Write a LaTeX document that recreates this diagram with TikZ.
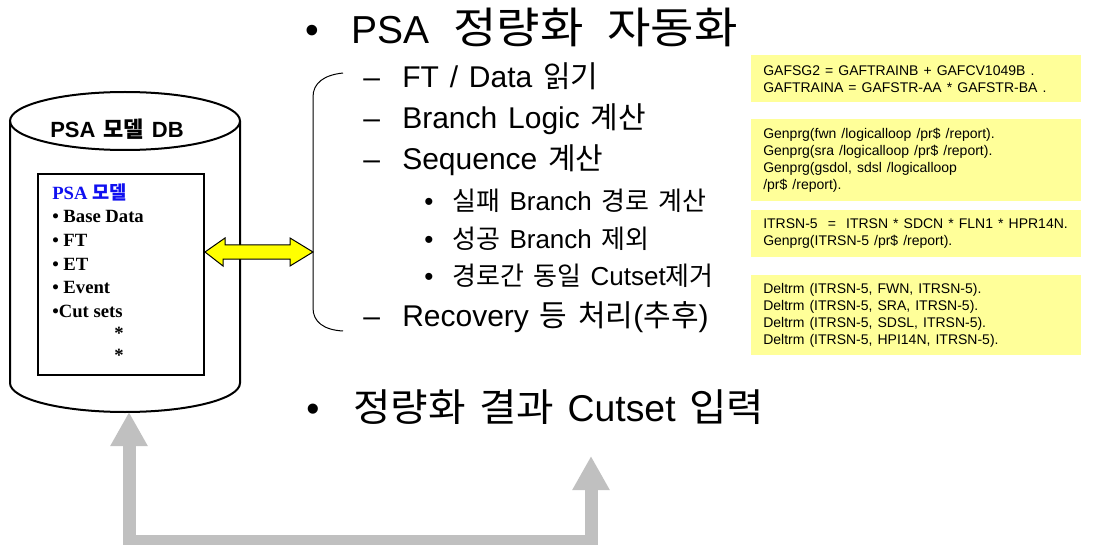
\documentclass[tikz,border=0pt]{standalone}
\usepackage{fontspec}
\setmainfont{Liberation Sans}[WordSpace=1.3]
\newfontfamily\krfont{Noto Sans CJK KR}
\newfontfamily\krL{Noto Sans CJK KR}[Scale=1.03, FakeStretch=1.06]
\newfontfamily\krT{Noto Sans CJK KR}[Scale=1.1, FakeStretch=1.1]
\newfontfamily\serifB{Liberation Serif}
\newcommand\kr[1]{{\krfont #1}}
\newcommand\kl[1]{{\krL #1}}
\newcommand\kt[1]{{\krT #1}}
\usetikzlibrary{arrows.meta}
\definecolor{boxyellow}{HTML}{FFFF99}
\definecolor{arrowgray}{HTML}{C0C0C0}
\definecolor{arrowyellow}{HTML}{FFFF00}
\definecolor{modelblue}{HTML}{1010F0}
\begin{document}
\begin{tikzpicture}[x=0.75pt,y=-0.75pt,
 txt/.style={anchor=base west, inner sep=0pt},
 big/.style={txt, font=\fontsize{29.25}{35}\selectfont},
 bottomfont/.style={txt, font=\fontsize{28}{34}\selectfont},
 mid/.style={txt, font=\fontsize{22.5}{27}\selectfont},
 small/.style={txt, font=\fontsize{19.5}{23}\selectfont},
 ybox/.style={fill=boxyellow, draw=none, anchor=north west, minimum width=247.5pt, inner sep=0pt},
 code/.style={anchor=west, inner sep=0pt, align=left, font=\fontsize{10.5}{12.75}\selectfont},
 innertxt/.style={txt, font=\serifB\bfseries\fontsize{14}{17}\selectfont},
 grayarrow/.style={draw=arrowgray, line width=9.75pt,
   {Triangle[length=25.5pt,width=26.25pt]}-{Triangle[length=25.5pt,width=26.25pt]}},
]
\useasboundingbox (0,0) rectangle (1109,545);

% cylinder
\draw[line width=1.5pt] (125,121) ellipse [x radius=115, y radius=29];
\draw[line width=1.5pt] (10,121) -- (10,383) arc[start angle=180, end angle=0, x radius=115, y radius=29] -- (240,121);
\node[txt, anchor=base, font=\bfseries\fontsize{16.5}{19}\selectfont] (dbtitle) at (117,138) {PSA \kr{\bfseries 모델} DB};

% inner model box
\node[draw, line width=1.5pt, minimum width=124.5pt, minimum height=150.75pt, anchor=north west, inner sep=0pt] (model) at (37,173) {};
\node[innertxt, text=modelblue] (m0) at (52,200) {PSA \kr{\bfseries 모델}};
\node[innertxt] (m1) at (52,223) {• Base Data};
\node[innertxt] (m2) at (52,247) {• FT};
\node[innertxt] (m3) at (52,270) {• ET};
\node[innertxt] (m4) at (52,293) {• Event};
\node[innertxt] (m5) at (52,317) {•Cut sets};
\node[innertxt] (m6) at (114,339) {*};
\node[innertxt] (m7) at (114,361) {*};

% yellow double arrow
\coordinate (brace) at (313,252);
\draw[fill=arrowyellow, line width=0.75pt, line join=miter]
  (model.east |- brace) -- ++(20,-14) -- ++(0,7) -- (290,245) -- (290,238) -- (brace)
  -- (290,266) -- (290,259) -- (223,259) -- (223,266) -- cycle;

% bracket
\draw[line width=0.75pt] (343,73) .. controls (324,75) and (313,83) .. (313,97) -- (313,308) .. controls (313,322) and (324,330) .. (343,331);

% main texts
\node[big] (tb) at (305,44) {•};
\node[big] (title) at (351,44) {PSA\hspace{18pt}\kt{정량화}\hspace{18pt}\kt{자동화}};
\node[mid] (d1) at (363,88) {–};
\node[mid] (i1) at (402,88) {FT / Data \kr{읽기}};
\node[mid] (d2) at (363,129) {–};
\node[mid] (i2) at (402,129) {Branch Logic \kr{계산}};
\node[mid] (d3) at (363,170) {–};
\node[mid] (i3) at (402,170) {Sequence \kr{계산}};
\node[small] (s1b) at (424,211) {•};
\node[small] (s1) at (452,211) {\kr{실패} Branch \kr{경로} \kr{계산}};
\node[small] (s2b) at (424,248) {•};
\node[small] (s2) at (452,248) {\kr{성공} Branch \kr{제외}};
\node[small] (s3b) at (424,285) {•};
\node[small] (s3) at (452,285) {\kr{경로간} \kr{동일} Cutset\kr{제거}};
\node[mid] (d4) at (363,326) {–};
\node[mid] (i4) at (402,326) {Recovery \kr{등} \kr{처리}(\kr{추후})};
\node[bottomfont] (bb) at (306,421) {•};
\node[bottomfont] (bottom) at (353,421) {\kl{정량화} \kl{결과} Cutset \kl{입력}};

% yellow code boxes
\node[ybox, minimum height=35.25pt] (b1) at (751,55) {};
\node[code] (c1) at ([xshift=9pt]b1.west) {GAFSG2 = GAFTRAINB + GAFCV1049B .\\GAFTRAINA = GAFSTR-AA * GAFSTR-BA .};
\node[ybox, minimum height=61.5pt] (b2) at (751,119) {};
\node[code] (c2) at ([xshift=9pt]b2.west) {Genprg(fwn /logicalloop /pr\$ /report).\\Genprg(sra /logicalloop /pr\$ /report).\\Genprg(gsdol, sdsl /logicalloop\\/pr\$ /report).};
\node[ybox, minimum height=35.25pt] (b3) at (751,210) {};
\node[code] (c3) at ([xshift=9pt]b3.west) {ITRSN-5 \ =\ \ ITRSN * SDCN * FLN1 * HPR14N.\\Genprg(ITRSN-5 /pr\$ /report).};
\node[ybox, minimum height=60pt] (b4) at (751,275) {};
\node[code] (c4) at ([xshift=9pt]b4.west) {Deltrm (ITRSN-5, FWN, ITRSN-5).\\Deltrm (ITRSN-5, SRA, ITRSN-5).\\Deltrm (ITRSN-5, SDSL, ITRSN-5).\\Deltrm (ITRSN-5, HPI14N, ITRSN-5).};

% gray feedback arrow
\coordinate (cylbot) at (129,412);
\coordinate (cutin) at (591,456);
\draw[grayarrow] (cylbot) -- (cylbot |- 0,541.5) -- (cutin |- 0,541.5) -- (cutin);
\end{tikzpicture}
\end{document}
